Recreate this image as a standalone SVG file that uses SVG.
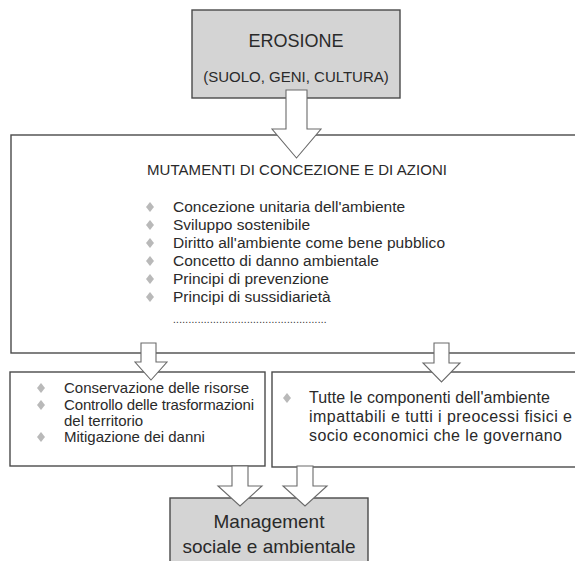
<svg xmlns="http://www.w3.org/2000/svg" width="575" height="561" viewBox="0 0 575 561">
<defs>
<style>
.box{stroke:#4a4a4a;stroke-width:1.4;}
.gray{fill:#d4d4d4;}
.white{fill:#ffffff;}
.arrow{fill:#ffffff;stroke:#6a6a6a;stroke-width:1.1;stroke-linejoin:miter;}
.t{font-family:"Liberation Sans",Arial,sans-serif;fill:#2a2a2a;}
.li{font-size:15.5px;}
.dia{fill:#b9b9b9;}
</style>
<path id="d" d="M0,-5 L4,0 L0,5 L-4,0 Z"/>
</defs>
<rect width="575" height="561" fill="#ffffff"/>

<g id="node-erosione">
<rect class="box gray" x="192" y="10" width="208" height="88"/>
<text class="t" x="296" y="47" font-size="18" text-anchor="middle">EROSIONE</text>
<text class="t" x="296" y="82" font-size="15" text-anchor="middle">(SUOLO, GENI, CULTURA)</text>
</g>

<g id="node-mutamenti">
<rect class="box white" x="11" y="135" width="580" height="218"/>
<text class="t" x="147" y="175" font-size="15" textLength="300">MUTAMENTI DI CONCEZIONE E DI AZIONI</text>
<use href="#d" class="dia" x="150" y="207"/>
<use href="#d" class="dia" x="150" y="225"/>
<use href="#d" class="dia" x="150" y="243"/>
<use href="#d" class="dia" x="150" y="261"/>
<use href="#d" class="dia" x="150" y="279"/>
<use href="#d" class="dia" x="150" y="297"/>
<text class="t li" x="173" y="212">Concezione unitaria dell'ambiente</text>
<text class="t li" x="173" y="230">Sviluppo sostenibile</text>
<text class="t li" x="173" y="248" textLength="272">Diritto all'ambiente come bene pubblico</text>
<text class="t li" x="173" y="266">Concetto di danno ambientale</text>
<text class="t li" x="173" y="284">Principi di prevenzione</text>
<text class="t li" x="173" y="302">Principi di sussidiarietà</text>
<text class="t" x="173" y="323" font-size="10" letter-spacing="0.3">..................................................</text>
</g>

<g id="node-conservazione">
<rect class="box white" x="10" y="372" width="255" height="94"/>
<use href="#d" class="dia" x="41" y="388"/>
<use href="#d" class="dia" x="41" y="405"/>
<use href="#d" class="dia" x="41" y="437"/>
<text class="t" x="64" y="393" font-size="15">Conservazione delle risorse</text>
<text class="t" x="64" y="410" font-size="15" textLength="190">Controllo delle trasformazioni</text>
<text class="t" x="64" y="426" font-size="15">del territorio</text>
<text class="t" x="64" y="442" font-size="15">Mitigazione dei danni</text>
</g>

<g id="node-componenti">
<rect class="box white" x="272" y="372" width="320" height="95"/>
<use href="#d" class="dia" x="287" y="398"/>
<text class="t" x="309" y="403" font-size="16" textLength="241">Tutte le componenti dell'ambiente</text>
<text class="t" x="309" y="422" font-size="16" textLength="263">impattabili e tutti i preocessi fisici e</text>
<text class="t" x="309" y="441" font-size="16" textLength="253">socio economici che le governano</text>
</g>

<g id="node-management">
<rect class="box gray" x="170" y="498" width="198" height="70"/>
<text class="t" x="269" y="528" font-size="19" text-anchor="middle">Management</text>
<text class="t" x="269" y="553" font-size="19" text-anchor="middle">sociale e ambientale</text>
</g>

<g id="connectors">
<path class="arrow" d="M286,90 H307 V129 H321 L296.5,158 L272,129 H286 Z"/>
<path class="arrow" d="M141,343 H156 V362 H167 L151,380 L135,362 H141 Z"/>
<path class="arrow" d="M434,343 H449 V363 H460 L441.5,382 L423,363 H434 Z"/>
<path class="arrow" d="M232,466 H248 V486 H262 L240,506 L218,486 H232 Z"/>
<path class="arrow" d="M297,466 H313 V486 H327 L305,506 L283,486 H297 Z"/>
</g>
</svg>
